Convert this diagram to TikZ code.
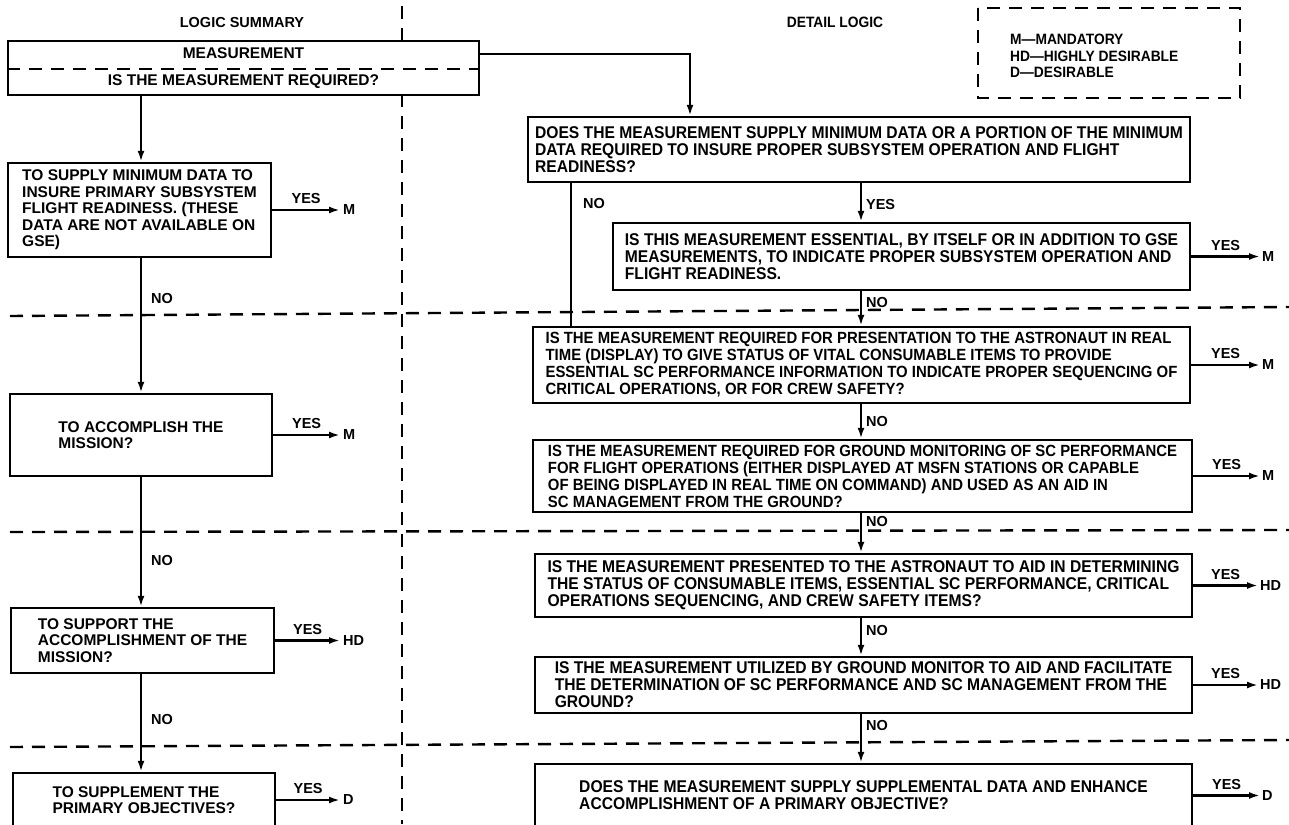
\documentclass[tikz,border=0pt]{standalone}
\usepackage{fontspec}
\setmainfont{Liberation Sans}
\newfontfamily\narrowfam[FakeStretch=0.92]{Liberation Sans}
\usepackage{tikz}
\usetikzlibrary{arrows.meta}
\newcommand{\sumfont}{\fontsize{15.5}{16.5}\selectfont\bfseries}
\newcommand{\detfont}{\narrowfam\fontsize{17}{17}\selectfont\bfseries}
\newcommand{\detsmallfont}{\narrowfam\fontsize{16.2}{17}\selectfont\bfseries}
\newcommand{\tagfont}{\fontsize{14.5}{16}\selectfont\bfseries}
\newcommand{\keyfont}{\narrowfam\fontsize{15}{16.5}\selectfont\bfseries}

\begin{document}
\begin{tikzpicture}[x=1pt, y=-1pt, >={Latex[length=11pt,width=7pt]},
		box/.style={draw, line width=2.4pt, fill=white, rectangle, align=left, inner sep=0pt},
		sumbox/.style={box, font=\sumfont},
		detbox/.style={box, font=\detfont},
		flow/.style={->, line width=2.2pt},
		sep/.style={line width=2.4pt, dash pattern=on 13pt off 9pt},
		tag/.style={font=\tagfont, inner sep=1pt}]
		\useasboundingbox (0,0) rectangle (1289,824);
		\clip (0,0) rectangle (1289,824);
		
		\draw (242,23) node[tag] (hsum) {LOGIC SUMMARY};
		\draw (835,22) node[tag, font=\keyfont] (hdet) {DETAIL LOGIC};
		
		\draw[sep] (402,6) -- (402,824);
		\draw[sep] (10,316) -- (1289,307);
		\draw[sep] (10,532) -- (1289,530);
		\draw[sep] (10,747) -- (1289,740);
		
		\draw[sep] (978,8) rectangle (1240,98);
		\draw (1010,56) node[anchor=west, align=left, font=\keyfont, inner sep=0pt] (key) {M—MANDATORY\\HD—HIGHLY DESIRABLE\\D—DESIRABLE};
		
		\draw (243.5,68) node[sumbox, align=center, minimum width=471pt, minimum height=54pt] (meas) {MEASUREMENT\\[10pt]IS THE MEASUREMENT REQUIRED?};
		\draw[sep] (meas.west |- 0,69) -- (meas.east |- 0,69);
		
		\draw (139.5,210) node[sumbox, minimum width=263pt, minimum height=94pt] (s1) {TO SUPPLY MINIMUM DATA TO\\INSURE PRIMARY SUBSYSTEM\\FLIGHT READINESS. (THESE\\DATA ARE NOT AVAILABLE ON\\GSE)};
		\draw (141,435) node[sumbox, minimum width=262pt, minimum height=82pt] (s2) {TO ACCOMPLISH THE\\MISSION?};
		\draw (142.5,640.5) node[sumbox, minimum width=263pt, minimum height=65pt] (s3) {TO SUPPORT THE\\ACCOMPLISHMENT OF THE\\MISSION?};
		\draw (144,800) node[sumbox, minimum width=262pt, minimum height=54pt] (s4) {TO SUPPLEMENT THE\\PRIMARY OBJECTIVES?};
		
		\draw (859,149.5) node[detbox, minimum width=662pt, minimum height=65pt] (qa) {DOES THE MEASUREMENT SUPPLY MINIMUM DATA OR A PORTION OF THE MINIMUM\\DATA REQUIRED TO INSURE PROPER SUBSYSTEM OPERATION AND FLIGHT\\READINESS?};
		\draw (901.5,256.5) node[detbox, minimum width=577pt, minimum height=67pt] (qb) {IS THIS MEASUREMENT ESSENTIAL, BY ITSELF OR IN ADDITION TO GSE\\MEASUREMENTS, TO INDICATE PROPER SUBSYSTEM OPERATION AND\\FLIGHT READINESS.};
		\draw (861.5,365) node[detbox, font=\detsmallfont, minimum width=657pt, minimum height=76pt] (qc) {IS THE MEASUREMENT REQUIRED FOR PRESENTATION TO THE ASTRONAUT IN REAL\\TIME (DISPLAY) TO GIVE STATUS OF VITAL CONSUMABLE ITEMS TO PROVIDE\\ESSENTIAL SC PERFORMANCE INFORMATION TO INDICATE PROPER SEQUENCING OF\\CRITICAL OPERATIONS, OR FOR CREW SAFETY?};
		\draw (862.5,476) node[detbox, font=\detsmallfont, minimum width=659pt, minimum height=72pt] (qd) {IS THE MEASUREMENT REQUIRED FOR GROUND MONITORING OF SC PERFORMANCE\\FOR FLIGHT OPERATIONS (EITHER DISPLAYED AT MSFN STATIONS OR CAPABLE\\OF BEING DISPLAYED IN REAL TIME ON COMMAND) AND USED AS AN AID IN\\SC MANAGEMENT FROM THE GROUND?};
		\draw (863.5,585.5) node[detbox, minimum width=657pt, minimum height=63pt] (qe) {IS THE MEASUREMENT PRESENTED TO THE ASTRONAUT TO AID IN DETERMINING\\THE STATUS OF CONSUMABLE ITEMS, ESSENTIAL SC PERFORMANCE, CRITICAL\\OPERATIONS SEQUENCING, AND CREW SAFETY ITEMS?};
		\draw (863.5,685) node[detbox, minimum width=657pt, minimum height=56pt] (qf) {IS THE MEASUREMENT UTILIZED BY GROUND MONITOR TO AID AND FACILITATE\\THE DETERMINATION OF SC PERFORMANCE AND SC MANAGEMENT FROM THE\\GROUND?};
		\draw (863.5,795.5) node[detbox, minimum width=657pt, minimum height=63pt] (qg) {DOES THE MEASUREMENT SUPPLY SUPPLEMENTAL DATA AND ENHANCE\\ACCOMPLISHMENT OF A PRIMARY OBJECTIVE?};
		
		\draw (340,210) node[tag, anchor=west, inner sep=3pt] (r1) {M};
		\draw (340,435) node[tag, anchor=west, inner sep=3pt] (r2) {M};
		\draw (340,640.5) node[tag, anchor=west, inner sep=3pt] (r3) {HD};
		\draw (340,800) node[tag, anchor=west, inner sep=3pt] (r4) {D};
		\draw (1260,256.5) node[tag, anchor=west, inner sep=2pt] (rb) {M};
		\draw (1260,365) node[tag, anchor=west, inner sep=2pt] (rc) {M};
		\draw (1260,476) node[tag, anchor=west, inner sep=2pt] (rd) {M};
		\draw (1258,585.5) node[tag, anchor=west, inner sep=2pt] (re) {HD};
		\draw (1258,685) node[tag, anchor=west, inner sep=2pt] (rf) {HD};
		\draw (1260,795.5) node[tag, anchor=west, inner sep=2pt] (rg) {D};
		
		\coordinate (lx) at (141,0);
		\coordinate (rx) at (861,0);
		\coordinate (nx) at (571,0);
		\coordinate (turn) at (690,54);
		
		\draw[flow] (meas.south -| lx) -- (s1.north -| lx);
		\draw[flow] (s1.south -| lx) -- (s2.north -| lx) node[tag, pos=.3, right=8pt] {NO};
		\draw[flow] (s2.south -| lx) -- (s3.north -| lx) node[tag, pos=.64, right=8pt] {NO};
		\draw[flow] (s3.south -| lx) -- (s4.north -| lx) node[tag, pos=.46, right=8pt] {NO};
		
		\draw[flow] (s1.east) -- (r1.west) node[tag, midway, above=4pt] {YES};
		\draw[flow] (s2.east) -- (r2.west) node[tag, midway, above=4pt] {YES};
		\draw[flow] (s3.east) -- (r3.west) node[tag, midway, above=4pt] {YES};
		\draw[flow] (s4.east) -- (r4.west) node[tag, midway, above=4pt] {YES};
		
		\draw[flow] (meas.east |- turn) -- (turn) -- (turn |- qa.north);
		\draw[line width=2.2pt] (qa.south -| nx) -- (qc.north -| nx) node[tag, pos=.145, right=10pt] {NO};
		\draw[flow] (qa.south -| rx) -- (qb.north -| rx) node[tag, pos=.55, right=3pt] {YES};
		\draw[flow] (qb.south -| rx) -- (qc.north -| rx) node[tag, pos=.32, right=3pt] {NO};
		\draw[flow] (qc.south -| rx) -- (qd.north -| rx) node[tag, pos=.5, right=3pt] {NO};
		\draw[flow] (qd.south -| rx) -- (qe.north -| rx) node[tag, pos=.2, right=3pt] {NO};
		\draw[flow] (qe.south -| rx) -- (qf.north -| rx) node[tag, pos=.33, right=3pt] {NO};
		\draw[flow] (qf.south -| rx) -- (qg.north -| rx) node[tag, pos=.24, right=3pt] {NO};
		
		\draw[flow] (qb.east) -- (rb.west) node[tag, midway, above=4pt] {YES};
		\draw[flow] (qc.east) -- (rc.west) node[tag, midway, above=4pt] {YES};
		\draw[flow] (qd.east) -- (rd.west) node[tag, midway, above=4pt] {YES};
		\draw[flow] (qe.east) -- (re.west) node[tag, midway, above=4pt] {YES};
		\draw[flow] (qf.east) -- (rf.west) node[tag, midway, above=4pt] {YES};
		\draw[flow] (qg.east) -- (rg.west) node[tag, midway, above=4pt] {YES};
	\end{tikzpicture}
\end{document}
